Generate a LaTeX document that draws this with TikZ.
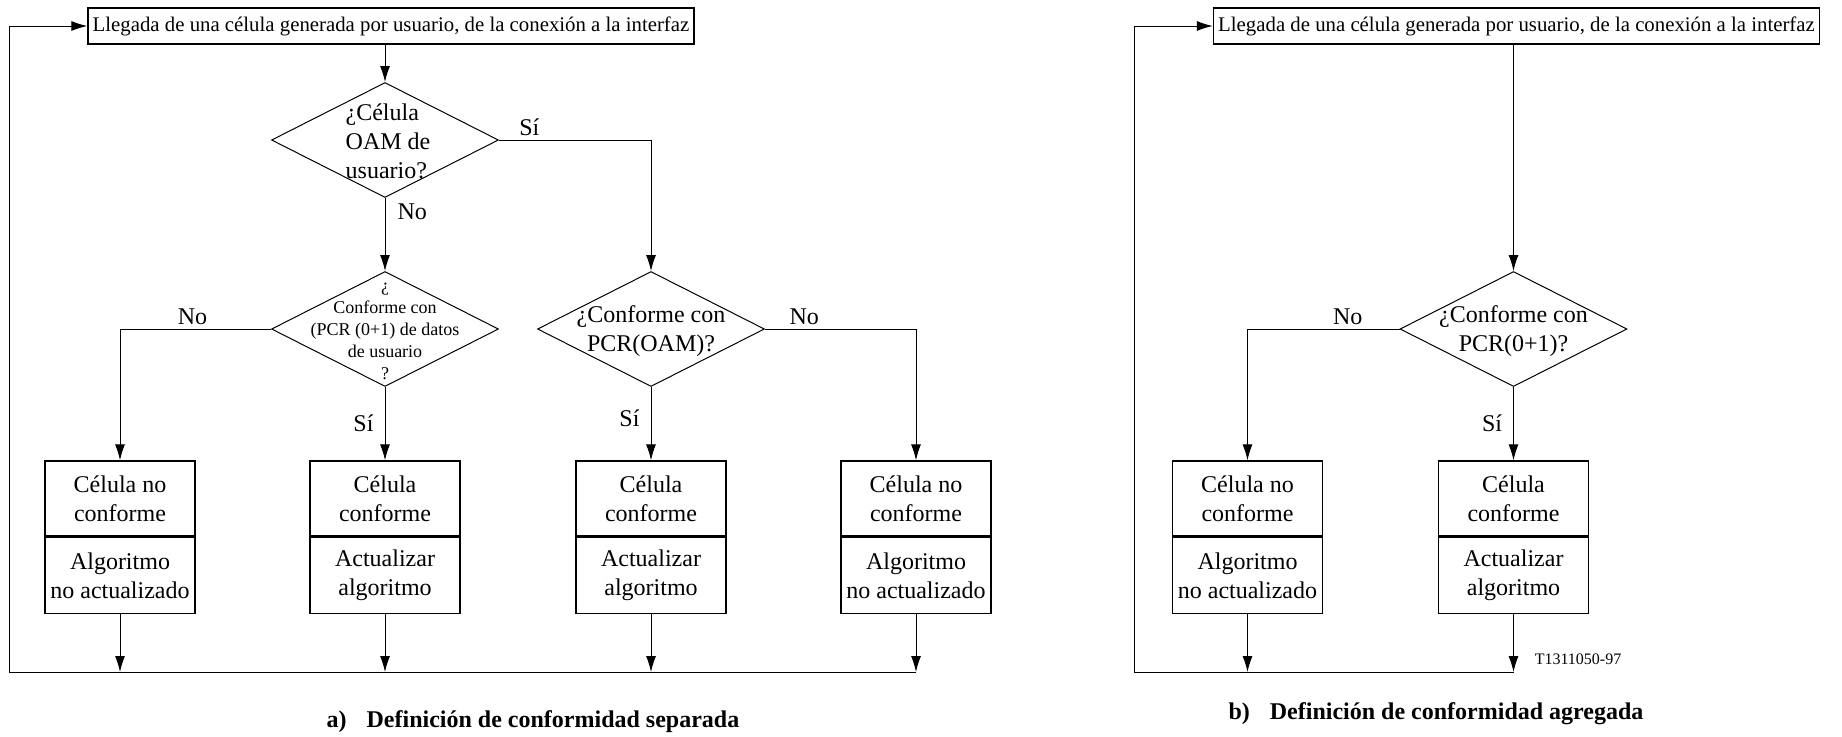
\documentclass[tikz,border=0pt]{standalone}
\usepackage{fontspec}
\setmainfont{Liberation Serif}
\usetikzlibrary{arrows.meta,shapes.geometric}
\tikzstyle{startbox}=[draw,rectangle,line width=0.7pt,minimum width=303pt,minimum height=18pt,inner sep=0pt,font=\fontsize{10.4}{12}\selectfont]
\tikzstyle{cellbox}=[draw,rectangle,line width=0.7pt,minimum width=75pt,minimum height=37.5pt,inner sep=0pt,align=center,font=\fontsize{12}{14.5}\selectfont]
\tikzstyle{algbox}=[cellbox,minimum height=38pt]
\tikzstyle{decision}=[draw,diamond,line width=0.5pt,minimum width=113.5pt,minimum height=57.5pt,inner sep=0pt]
\tikzstyle{dtext}=[align=center,inner sep=0pt,font=\fontsize{12}{14.5}\selectfont]
\tikzstyle{edge}=[draw,line width=0.5pt,-{Latex[length=8pt,width=5pt]}]
\tikzstyle{answer}=[font=\fontsize{12}{14}\selectfont,inner sep=2pt]
\tikzstyle{figcaption}=[font=\fontsize{12}{14}\selectfont\bfseries]

\begin{document}
\begin{tikzpicture}[x=0.5pt,y=-0.5pt]

    \useasboundingbox (0,0) rectangle (1842,736);

    % a) conformidad separada
    \node[startbox] (top1) at (391,26) {Llegada de una célula generada por usuario, de la conexión a la interfaz};

    \foreach \x/\y/\name in {385/140/d1, 385/329/d2, 651/329/d3}
        \node[decision] (\name) at (\x,\y) {};

    \node[dtext, align=left] (t1) at (388,141) {¿Célula\\OAM de\\usuario?};
    \node[dtext, font=\fontsize{9}{11}\selectfont] (t2) at (385,331) {¿\\Conforme con\\(PCR (0+1) de datos\\de usuario\\?};
    \node[dtext] (t3) at (651,331) {¿Conforme con\\PCR(OAM)?};

    \foreach \x/\n/\cell/\alg in {120/1/{Célula no\\conforme}/{Algoritmo\\no actualizado},
                                  385/2/{Célula\\conforme}/{Actualizar\\algoritmo},
                                  651/3/{Célula\\conforme}/{Actualizar\\algoritmo},
                                  916/4/{Célula no\\conforme}/{Algoritmo\\no actualizado}}
    {
        \node[cellbox] (c\n) at (\x,498.5) {\cell};
        \node[algbox, anchor=north] (a\n) at (c\n.south) {\alg};
        \coordinate (b\n) at (\x,672);
    }

    \path[edge] (d1.north |- top1.south) -- (d1.north);
    \path[edge] (d1.east) -| node[answer, above, pos=0.1] (s1) {Sí} (d3.north);
    \path[edge] (d1.south) -- node[answer, right, pos=0.19, xshift=4pt] (n1) {No} (d2.north);
    \path[edge] (d2.west) -| node[answer, above, pos=0.26] (n2) {No} (c1.north);
    \path[edge] (d2.south) -- node[answer, left, pos=0.5, xshift=-3.5pt] (s2) {Sí} (c2.north);
    \path[edge] (d3.south) -- node[answer, left, pos=0.42, xshift=-3.5pt] (s3) {Sí} (c3.north);
    \path[edge] (d3.east) -| node[answer, above, pos=0.13] (n3) {No} (c4.north);

    \foreach \n in {1,...,4}
        \path[edge] (a\n) -- (b\n);

    \coordinate (lp1) at (9.4,672);
    \path[edge] (b4) -- (lp1) |- (top1.west);

    \node[figcaption] (capa) at (533,722) {a)\hspace{10pt}Definición de conformidad separada};

    % b) conformidad agregada
    \node[startbox] (top2) at (1516.5,26) {Llegada de una célula generada por usuario, de la conexión a la interfaz};

    \node[decision] (d4) at (1513.5,329) {};
    \node[dtext] (t4) at (1513.5,331) {¿Conforme con\\PCR(0+1)?};

    \foreach \x/\n/\cell/\alg in {1247.5/5/{Célula no\\conforme}/{Algoritmo\\no actualizado},
                                  1513.5/6/{Célula\\conforme}/{Actualizar\\algoritmo}}
    {
        \node[cellbox] (c\n) at (\x,498.5) {\cell};
        \node[algbox, anchor=north] (a\n) at (c\n.south) {\alg};
        \coordinate (b\n) at (\x,672);
    }

    \path[edge] (d4.north |- top2.south) -- (d4.north);
    \path[edge] (d4.west) -| node[answer, above, pos=0.17] (n4) {No} (c5.north);
    \path[edge] (d4.south) -- node[answer, left, pos=0.5, xshift=-3.5pt] (s4) {Sí} (c6.north);

    \foreach \n in {5,6}
        \path[edge] (a\n) -- (b\n);

    \coordinate (lp2) at (1134,672);
    \path[edge] (b6) -- (lp2) |- (top2.west);

    \node[font=\fontsize{8}{9}\selectfont, inner sep=0pt] (code) at (1578,659) {T1311050-97};

    \node[figcaption] (capb) at (1436,714) {b)\hspace{10pt}Definición de conformidad agregada};

\end{tikzpicture}
\end{document}
